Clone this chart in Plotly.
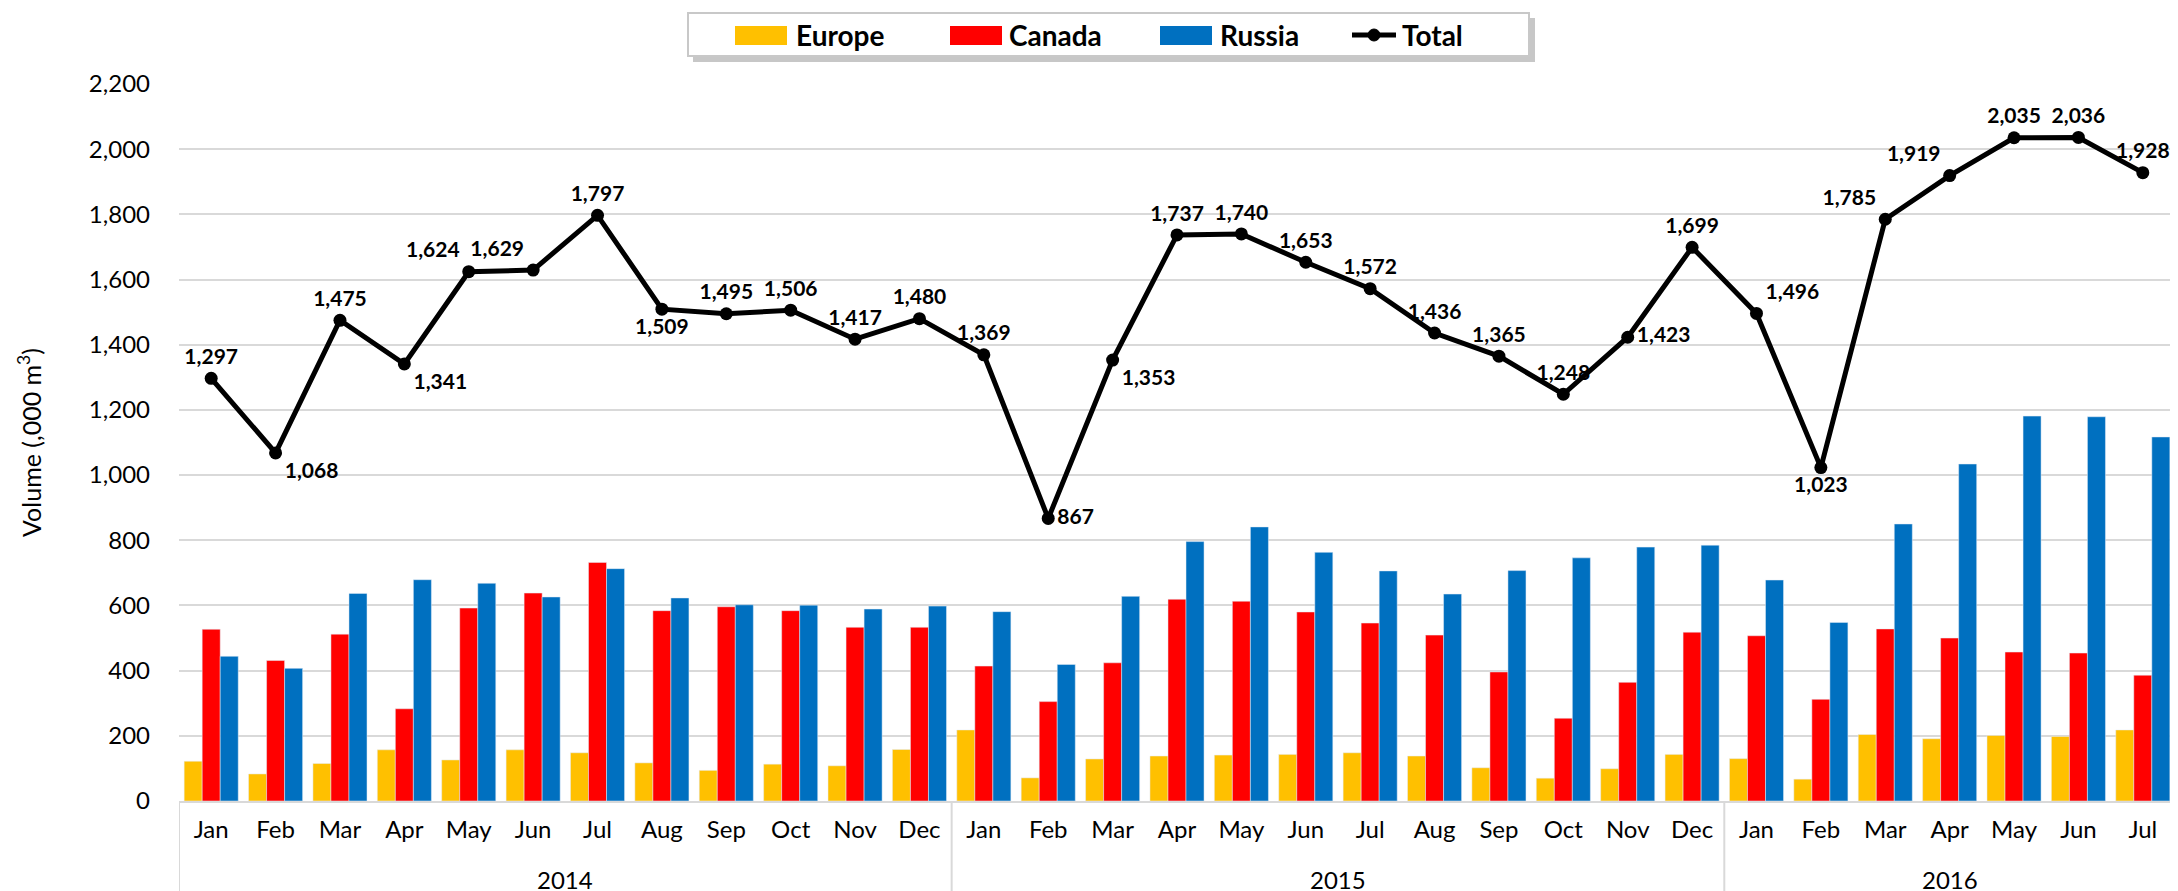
import plotly.graph_objects as go

years = ["2014"] * 12 + ["2015"] * 12 + ["2016"] * 7
months = ["Jan", "Feb", "Mar", "Apr", "May", "Jun", "Jul", "Aug", "Sep", "Oct", "Nov", "Dec",
          "Jan", "Feb", "Mar", "Apr", "May", "Jun", "Jul", "Aug", "Sep", "Oct", "Nov", "Dec",
          "Jan", "Feb", "Mar", "Apr", "May", "Jun", "Jul"]

europe = [122, 83, 115, 157, 126, 157, 148, 117, 94, 113, 108, 158,
          218, 71, 129, 138, 141, 143, 148, 138, 102, 70, 99, 143,
          130, 67, 204, 191, 201, 198, 218]
canada = [527, 431, 512, 283, 592, 638, 732, 584, 596, 584, 533, 533,
          414, 305, 424, 619, 613, 580, 546, 509, 396, 254, 364, 518,
          507, 312, 528, 500, 457, 454, 386]
russia = [444, 407, 637, 679, 668, 626, 713, 623, 602, 601, 589, 598,
          581, 419, 628, 796, 841, 763, 706, 635, 707, 746, 779, 785,
          678, 548, 850, 1034, 1181, 1179, 1117]
total = [1297, 1068, 1475, 1341, 1624, 1629, 1797, 1509, 1495, 1506, 1417, 1480,
         1369, 867, 1353, 1737, 1740, 1653, 1572, 1436, 1365, 1248, 1423, 1699,
         1496, 1023, 1785, 1919, 2035, 2036, 1928]

label_pos = ["top center", "bottom right", "top center", "bottom right", "top left", "top left",
             "top center", "bottom center", "top center", "top center", "top center", "top center",
             "top center", "middle right", "bottom right", "top center", "top center", "top center",
             "top center", "top center", "top center", "top center", "middle right", "top center",
             "top right", "bottom center", "top left", "top left", "top center", "top center",
             "top center"]

COLORS = {"Europe": "#FFC000", "Canada": "#FF0000", "Russia": "#0070C0"}
FONT = "Lato, 'Open Sans', sans-serif"
GRID = "#D9D9D9"

# figure geometry (pixels)
W, H = 2178, 891
L, R, T, B = 171, 11, 76, 98
PW, PH = W - L - R, H - T - B


def px(xp):
    return (xp - L) / PW


def py(yp):
    return (H - B - yp) / PH


# one slot per month on the category axis
idx = list(range(len(months)))

fig = go.Figure()
for name, vals in (("Europe", europe), ("Canada", canada), ("Russia", russia)):
    fig.add_trace(go.Bar(name=name, x=idx, y=vals, marker_color=COLORS[name],
                         customdata=years, showlegend=False,
                         hovertemplate="%{customdata} %{text}: %{y}<extra>" + name + "</extra>",
                         text=months, textposition="none"))
fig.add_trace(go.Scatter(
    name="Total", x=idx, y=total, mode="lines+markers+text", showlegend=False,
    line=dict(color="black", width=5), marker=dict(color="black", size=13),
    texttemplate="%{y:,}", textposition=label_pos,
    textfont=dict(family=FONT, size=21, color="black", weight="bold"),
    cliponaxis=False,
))

shapes = []
annotations = []

# year group labels and dividers under the month labels
year_order = []
for yv in years:
    if yv not in year_order:
        year_order.append(yv)
start = 0
bounds = [-0.5]
for yv in year_order:
    n = years.count(yv)
    centre = start + (n - 1) / 2
    annotations.append(dict(text=yv, xref="x", yref="paper", x=centre, y=py(887),
                            xanchor="center", yanchor="bottom", showarrow=False,
                            borderpad=0,
                            font=dict(family=FONT, size=24, color="black")))
    start += n
    bounds.append(start - 0.5)
for b in bounds:
    shapes.append(dict(type="line", xref="x", yref="paper", x0=b, x1=b, y0=0, y1=py(H),
                       line=dict(color=GRID, width=2), layer="below"))

# custom legend (box with shadow, wide swatches)
shapes += [
    dict(type="rect", xref="paper", yref="paper", x0=px(685), x1=px(1527), y0=py(54), y1=py(10),
         fillcolor="rgba(0,0,0,0.22)", line=dict(width=0), layer="above"),
    dict(type="rect", xref="paper", yref="paper", x0=px(680), x1=px(1521), y0=py(48), y1=py(5),
         fillcolor="white", line=dict(color="#C8C8C8", width=2), layer="above"),
]
legend_items = [("Europe", 727, 786), ("Canada", 942, 999), ("Russia", 1152, 1210)]
for name, sx, tx in legend_items:
    shapes.append(dict(type="rect", xref="paper", yref="paper", x0=px(sx), x1=px(sx + 52),
                       y0=py(37), y1=py(18), fillcolor=COLORS[name], line=dict(width=0),
                       layer="above"))
    annotations.append(dict(text=name, xref="paper", yref="paper", x=px(tx), y=py(27),
                            xanchor="left", yanchor="middle", showarrow=False,
                            font=dict(family=FONT, size=28, color="black", weight="bold")))
shapes.append(dict(type="line", xref="paper", yref="paper", x0=px(1344), x1=px(1388),
                   y0=py(27), y1=py(27), line=dict(color="black", width=5), layer="above"))
shapes.append(dict(type="circle", xref="paper", yref="paper", x0=px(1360), x1=px(1372),
                   y0=py(33), y1=py(21), fillcolor="black", line=dict(color="black", width=1),
                   layer="above"))
annotations.append(dict(text="Total", xref="paper", yref="paper", x=px(1392), y=py(27),
                        xanchor="left", yanchor="middle", showarrow=False,
                        font=dict(family=FONT, size=28, color="black", weight="bold")))

fig.update_layout(
    width=W, height=H,
    margin=dict(l=L, r=R, t=T, b=B, autoexpand=False),
    paper_bgcolor="white", plot_bgcolor="white",
    barmode="group", bargap=0.16, bargroupgap=0,
    font=dict(family=FONT, size=24, color="black"),
    showlegend=False,
    shapes=shapes, annotations=annotations,
    yaxis=dict(
        range=[0, 2200], dtick=200, tickformat=",",
        showgrid=True, gridcolor=GRID, gridwidth=2,
        zeroline=False, showline=False, ticks="",
        tickfont=dict(size=24), ticklabelstandoff=28, automargin=False,
        title=dict(text="Volume (,000 m<sup>3</sup>)", font=dict(size=25), standoff=40),
    ),
    xaxis=dict(
        range=[-0.5, len(months) - 0.5], automargin=False,
        tickmode="array", tickvals=idx, ticktext=months,
        showgrid=False, zeroline=False,
        showline=True, linecolor=GRID, linewidth=2,
        tickfont=dict(size=24), ticks="", ticklabelstandoff=6,
    ),
)

fig.write_html("out.html")
